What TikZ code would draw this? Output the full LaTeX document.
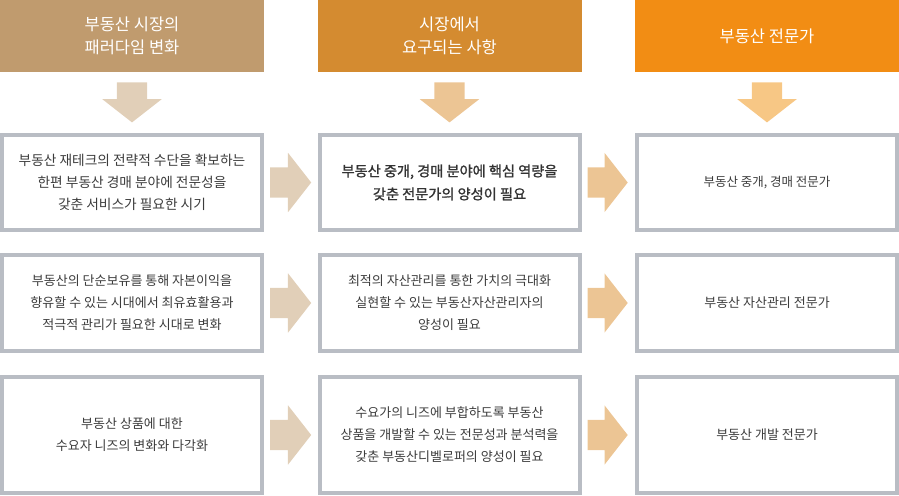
\documentclass[tikz,border=0pt]{standalone}
\usepackage{fontspec}
\setmainfont{Noto Sans CJK KR}
\newfontfamily\krmid[FakeBold=1.3]{Noto Sans CJK KR}
\usetikzlibrary{shapes.arrows, positioning, calc}
\definecolor{hdtan}{RGB}{192, 155, 110}
\definecolor{hdochre}{RGB}{212, 139, 48}
\definecolor{hdorange}{RGB}{242, 141, 20}
\definecolor{arrtan}{RGB}{225, 207, 184}
\definecolor{arrochre}{RGB}{236, 197, 148}
\definecolor{arrorange}{RGB}{247, 199, 133}
\definecolor{framegray}{RGB}{185, 189, 196}
\definecolor{txtgray}{RGB}{60, 60, 60}

\begin{document}
\begin{tikzpicture}[x=1pt, y=-1pt,
  hdbox/.style={fill=#1, minimum width=264pt, minimum height=72pt, inner sep=0pt, align=center, text=white, font=\fontsize{16.5}{23}\selectfont},
  cellbox/.style={draw=framegray, line width=4pt, fill=white, minimum width=260pt, minimum height=#1, inner sep=0pt, align=center, text=txtgray, font=\fontsize{13}{22}\selectfont},
  rightarr/.style={single arrow, fill=#1, draw=none, anchor=tail, inner xsep=0pt, inner ysep=15pt, minimum width=59pt, minimum height=41pt, single arrow head extend=14.5pt, single arrow tip angle=104},
  downarr/.style={rightarr=#1, rotate=-90, minimum height=40pt}
]
  \useasboundingbox (0,0) rectangle (899,495);

  % headers
  \node[hdbox=hdtan] (hd1) at (132, 36) {부동산 시장의\\패러다임 변화};
  \node[hdbox=hdochre] (hd2) at (449.5, 36) {시장에서\\요구되는 사항};
  \node[hdbox=hdorange] (hd3) at (767, 36) {부동산 전문가};

  % row 1
  \node[cellbox=95pt, font=\fontsize{13.7}{22}\selectfont] (c11) at (132, 182.5) {부동산 재테크의 전략적 수단을 확보하는\\한편 부동산 경매 분야에 전문성을\\갖춘 서비스가 필요한 시기};
  \node[cellbox=95pt, font=\krmid\fontsize{14.2}{23}\selectfont, text=black!80] (c21) at (449.5, 182.5) {부동산 중개, 경매 분야에 핵심 역량을\\갖춘 전문가의 양성이 필요};
  \node[cellbox=95pt, font=\fontsize{12.5}{20}\selectfont] (c31) at (767, 182.5) {부동산 중개, 경매 전문가};

  % row 2
  \node[cellbox=96pt] (c12) at (132, 303) {부동산의 단순보유를 통해 자본이익을\\향유할 수 있는 시대에서 최유효활용과\\적극적 관리가 필요한 시대로 변화};
  \node[cellbox=96pt] (c22) at (449.5, 303) {최적의 자산관리를 통한 가치의 극대화\\실현할 수 있는 부동산자산관리자의\\양성이 필요};
  \node[cellbox=96pt] (c32) at (767, 303) {부동산 자산관리 전문가};

  % row 3
  \node[cellbox=116pt] (c13) at (132, 435) {부동산 상품에 대한\\수요자 니즈의 변화와 다각화};
  \node[cellbox=116pt] (c23) at (449.5, 435) {수요가의 니즈에 부합하도록 부동산\\상품을 개발할 수 있는 전문성과 분석력을\\갖춘 부동산디벨로퍼의 양성이 필요};
  \node[cellbox=116pt] (c33) at (767, 435) {부동산 개발 전문가};

  % arrows
  \node[downarr=arrtan] (d1) at ($(hd1.south)+(0,10)$) {};
  \node[downarr=arrochre] (d2) at ($(hd2.south)+(0,10)$) {};
  \node[downarr=arrorange] (d3) at ($(hd3.south)+(0,10)$) {};
  \foreach \r in {1,2,3} {
    \node[rightarr=arrtan] (ra\r) at ($(c1\r.east)+(6,0)$) {};
    \node[rightarr=arrochre, minimum height=40pt] (rb\r) at ($(c2\r.east)+(6,0)$) {};
  }
\end{tikzpicture}
\end{document}
